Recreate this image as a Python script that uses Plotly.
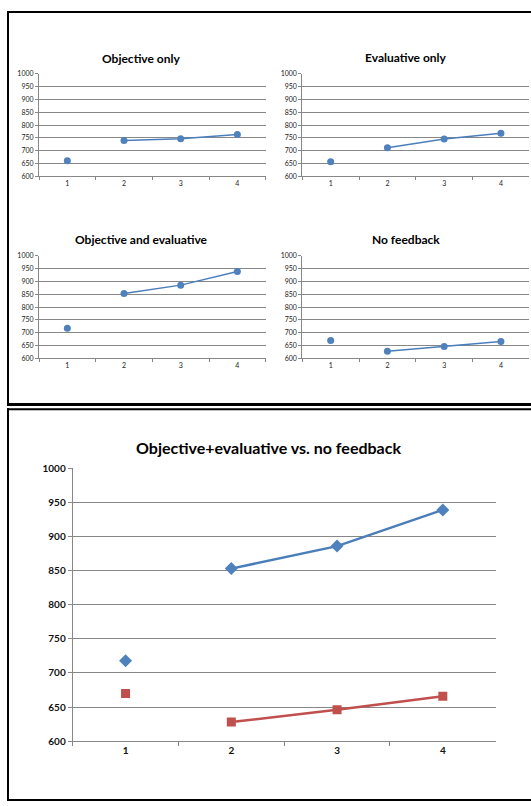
import plotly.graph_objects as go

# Session labels and mean scores per feedback condition
sessions = ["1", "2", "3", "4"]
objective_only = [661, 740, 747, 763]
evaluative_only = [657, 712, 746, 768]
objective_and_evaluative = [718, 853, 886, 939]
no_feedback = [670, 628, 646, 666]

small_titles = ["Objective only", "Evaluative only", "Objective and evaluative", "No feedback"]
big_title = "Objective+evaluative vs. no feedback"
y_ticks = [600, 650, 700, 750, 800, 850, 900, 950, 1000]

W, H = 531, 806
BLUE = "#4F81BD"
BLUE_LINE = "#4A7EBB"
RED = "#C0504D"
GRID = "#878787"
FONT = "Lato"


def px_x(px):
    return px / W


def px_y(py):
    return 1 - py / H


fig = go.Figure()

# Pixel boxes of the four small panels: (left, right, top, bottom)
panels = [
    (39, 265.7, 67.7, 172.0),
    (302.3, 529.3, 67.7, 172.0),
    (39, 265.7, 252.7, 356.7),
    (302.3, 529.3, 252.7, 356.7),
]
title_pos = [(141, 52), (406, 51), (141, 236), (406, 236)]
series = [objective_only, evaluative_only, objective_and_evaluative, no_feedback]

layout_axes = {}
for i, ((l, r, t, b), vals) in enumerate(zip(panels, series), start=1):
    xa = f"x{i}" if i > 1 else "x"
    ya = f"y{i}" if i > 1 else "y"
    # connected sessions 2-4
    fig.add_trace(go.Scatter(
        x=sessions[1:], y=vals[1:], xaxis=xa, yaxis=ya, mode="lines",
        line=dict(color=BLUE_LINE, width=1.5), showlegend=False, hoverinfo="skip"))
    # markers for every session
    fig.add_trace(go.Scatter(
        x=sessions, y=vals, xaxis=xa, yaxis=ya, mode="markers",
        marker=dict(color=BLUE, size=7, symbol="circle"), showlegend=False))
    key = "" if i == 1 else str(i)
    layout_axes[f"xaxis{key}"] = dict(
        domain=[px_x(l), px_x(r)], anchor=ya, type="category",
        categoryorder="array", categoryarray=sessions,
        tickson="boundaries", ticks="outside", ticklen=3, tickcolor=GRID,
        showline=True, linecolor=GRID, linewidth=1, showgrid=False,
        tickfont=dict(family=FONT, size=7, color="#222"), fixedrange=True,
        range=[-0.5, 3.5])
    layout_axes[f"yaxis{key}"] = dict(
        domain=[px_y(b), px_y(t)], anchor=xa, range=[600, 1000],
        tickvals=y_ticks, ticks="outside", ticklen=3, tickcolor=GRID,
        showline=True, linecolor=GRID, linewidth=1,
        showgrid=True, gridcolor=GRID, gridwidth=1, zeroline=False,
        tickfont=dict(family=FONT, size=7, color="#222"), fixedrange=True)

# Large comparison chart
fig.add_trace(go.Scatter(
    x=sessions[1:], y=objective_and_evaluative[1:], xaxis="x5", yaxis="y5",
    mode="lines", line=dict(color=BLUE_LINE, width=2.5), showlegend=False,
    hoverinfo="skip"))
fig.add_trace(go.Scatter(
    x=sessions, y=objective_and_evaluative, xaxis="x5", yaxis="y5",
    mode="markers", marker=dict(color=BLUE, size=10, symbol="diamond"),
    name="Objective and evaluative", showlegend=False))
fig.add_trace(go.Scatter(
    x=sessions[1:], y=no_feedback[1:], xaxis="x5", yaxis="y5",
    mode="lines", line=dict(color=RED, width=2.5), showlegend=False,
    hoverinfo="skip"))
fig.add_trace(go.Scatter(
    x=sessions, y=no_feedback, xaxis="x5", yaxis="y5",
    mode="markers", marker=dict(color=RED, size=9, symbol="square"),
    name="No feedback", showlegend=False))

layout_axes["xaxis5"] = dict(
    domain=[px_x(72.7), px_x(495.7)], anchor="y5", type="category",
    categoryorder="array", categoryarray=sessions,
    tickson="boundaries", ticks="outside", ticklen=4, tickcolor=GRID,
    showline=True, linecolor=GRID, linewidth=1, showgrid=False,
    tickfont=dict(family=FONT, size=10, color="#111", weight="bold"),
    fixedrange=True, range=[-0.5, 3.5])
layout_axes["yaxis5"] = dict(
    domain=[px_y(745.3), px_y(468.3)], anchor="x5", range=[600, 1000],
    tickvals=y_ticks, ticks="outside", ticklen=4, tickcolor=GRID,
    showline=True, linecolor=GRID, linewidth=1,
    showgrid=True, gridcolor=GRID, gridwidth=1, zeroline=False,
    tickfont=dict(family=FONT, size=10, color="#111", weight="bold"),
    fixedrange=True)

annotations = []
for text, (cx, cy) in zip(small_titles, title_pos):
    annotations.append(dict(
        text=text, x=px_x(cx), y=px_y(cy), xref="paper", yref="paper",
        xanchor="center", yanchor="middle", showarrow=False,
        font=dict(family=FONT, size=12, color="#000", weight="bold")))
annotations.append(dict(
    text=big_title, x=px_x(268.5), y=px_y(447), xref="paper", yref="paper",
    xanchor="center", yanchor="middle", showarrow=False,
    font=dict(family=FONT, size=16, color="#000", weight="bold")))

# Frames around the two chart groups
shapes = []
def seg(x0, y0, x1, y1, w):
    shapes.append(dict(type="line", xref="paper", yref="paper",
                       x0=px_x(x0), y0=px_y(y0), x1=px_x(x1), y1=px_y(y1),
                       line=dict(color="#000", width=w)))

seg(8, 4, 8, 405, 2)
seg(7, 5, 531, 5, 2)
seg(7, 403.5, 531, 403.5, 3)
seg(7, 408.3, 531, 408.3, 2)
seg(8, 407.3, 8, 806, 2)
seg(7, 805, 531, 805, 2)

fig.update_layout(
    width=W, height=H, margin=dict(l=0, r=0, t=0, b=0),
    paper_bgcolor="white", plot_bgcolor="white",
    annotations=annotations, shapes=shapes, showlegend=False,
    **layout_axes)

fig.write_html("out.html")
